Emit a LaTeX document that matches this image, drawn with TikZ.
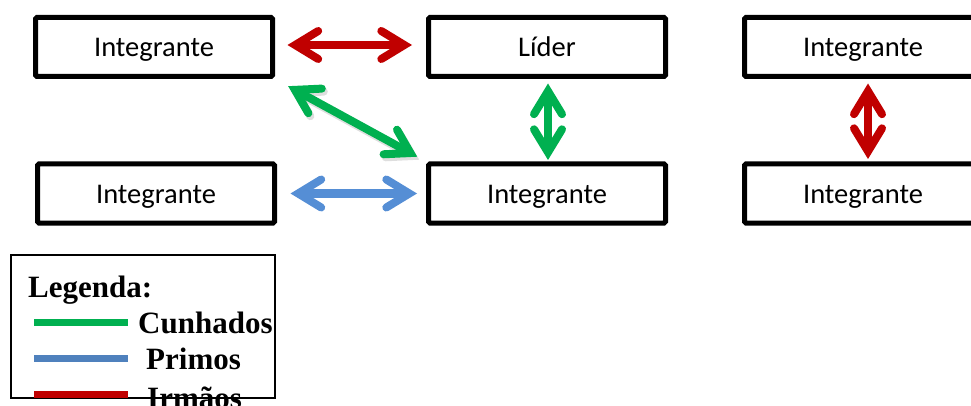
\documentclass[tikz,border=0pt]{standalone}
\usepackage{fontspec}
\setmainfont{Carlito}
\newfontfamily\legfont{Liberation Serif}
\usetikzlibrary{arrows.meta,calc}
\definecolor{myred}{HTML}{C00000}
\definecolor{mygreen}{HTML}{00B050}
\definecolor{myblue}{HTML}{558ED5}
\definecolor{legblue}{HTML}{4F81BD}
\tikzset{
  member/.style={draw=black, line width=5pt, rounded corners=1.5pt, minimum width=237pt, minimum height=59pt, inner sep=0pt, text height=20pt, text depth=0pt, font=\fontsize{28.5}{30}\selectfont},
  barb/.tip={Straight Barb[length=23pt,width=28pt,line join=miter,line cap=round]},
  rel/.style={line width=8pt, {barb}-{barb}},
  legtext/.style={anchor=base west, inner sep=0pt, font=\legfont\bfseries\fontsize{31}{33}\selectfont},
  legline/.style={line width=7pt},
}
\begin{document}
\begin{tikzpicture}[x=1pt,y=-1pt]
\useasboundingbox (0,0) rectangle (971,406);
\node[member] (A) at (154,47) {Integrante};
\node[member] (L) at (547,47) {Líder};
\node[member] (R1) at (863,47) {Integrante};
\node[member] (B) at (156,193.5) {Integrante};
\node[member] (M) at (547,193.5) {Integrante};
\node[member] (R2) at (863,193.5) {Integrante};
% relations
\draw[rel, myred, shorten <=12.5pt, shorten >=14pt] ([yshift=2pt]A.east) -- ([yshift=2pt]L.west);
\draw[rel, black, opacity=0.13, shorten <=15pt, shorten >=10pt, transform canvas={shift={(2pt,-3pt)}}] (A.south east) -- (M.north west);
\draw[rel, mygreen, shorten <=15pt, shorten >=10pt] (A.south east) -- (M.north west);
\draw[rel, mygreen, shorten <=4.5pt, shorten >=1.5pt] ([xshift=1pt]L.south) -- ([xshift=1pt]M.north);
\draw[rel, myblue, shorten <=13.5pt, shorten >=9pt] (B.east) -- (M.west);
\draw[rel, myred, shorten <=4.5pt, shorten >=2.5pt] ([xshift=5pt]R1.south) -- ([xshift=5pt]R2.north);
% legend
\draw[line width=2pt] (11,255) rectangle (275,398);
\node[legtext] (lg) at (28,297) {Legenda:};
\coordinate (g1) at (34,322); \coordinate (g2) at (128,322);
\coordinate (b1) at (34,358); \coordinate (b2) at (128,358);
\coordinate (r1) at (34,394); \coordinate (r2) at (128,394);
\draw[legline, mygreen] (g1) -- (g2);
\draw[legline, legblue] (b1) -- (b2);
\draw[legline, myred] (r1) -- (r2);
\node[legtext] (cu) at (138,333) {Cunhados};
\node[legtext] (pr) at (146,369) {Primos};
\node[legtext] (ir) at (147,408) {Irmãos};
\end{tikzpicture}
\end{document}
